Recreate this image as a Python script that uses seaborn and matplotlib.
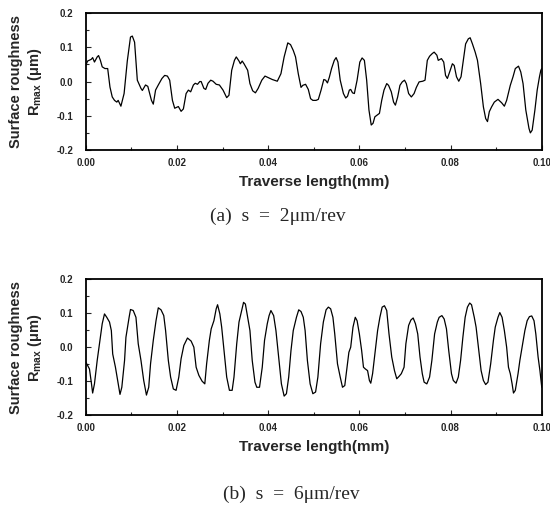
import numpy as np
import matplotlib
matplotlib.use("Agg")
import matplotlib.pyplot as plt
import seaborn as sns
from matplotlib.ticker import MultipleLocator, FormatStrFormatter

# (a) s = 2 um/rev : traverse length (mm) and roughness (um)
len_a = [0.0000, 0.0004, 0.0012, 0.0015, 0.0019, 0.0025, 0.0028, 0.0032, 0.0036, 0.0042,
         0.0048, 0.0053, 0.0058, 0.0063, 0.0068, 0.0071, 0.0077, 0.0084, 0.0091, 0.0098,
         0.0102, 0.0107, 0.0113, 0.0121, 0.0124, 0.0131, 0.0136, 0.0144, 0.0148, 0.0153,
         0.0159, 0.0167, 0.0173, 0.0179, 0.0184, 0.0190, 0.0195, 0.0203, 0.0209, 0.0214,
         0.0220, 0.0225, 0.0230, 0.0236, 0.0240, 0.0245, 0.0250, 0.0253, 0.0259, 0.0263,
         0.0268, 0.0274, 0.0279, 0.0286, 0.0293, 0.0301, 0.0309, 0.0314, 0.0320, 0.0326,
         0.0330, 0.0336, 0.0339, 0.0343, 0.0347, 0.0355, 0.0360, 0.0366, 0.0372, 0.0378,
         0.0386, 0.0393, 0.0401, 0.0409, 0.0420, 0.0428, 0.0435, 0.0443, 0.0449, 0.0455,
         0.0460, 0.0466, 0.0472, 0.0476, 0.0482, 0.0488, 0.0493, 0.0498, 0.0505, 0.0510,
         0.0516, 0.0522, 0.0526, 0.0530, 0.0534, 0.0539, 0.0545, 0.0549, 0.0553, 0.0558,
         0.0565, 0.0570, 0.0574, 0.0578, 0.0581, 0.0585, 0.0589, 0.0595, 0.0601, 0.0606,
         0.0611, 0.0616, 0.0621, 0.0626, 0.0630, 0.0634, 0.0639, 0.0644, 0.0649, 0.0654,
         0.0660, 0.0664, 0.0670, 0.0675, 0.0679, 0.0684, 0.0689, 0.0694, 0.0699, 0.0703,
         0.0708, 0.0714, 0.0720, 0.0725, 0.0731, 0.0739, 0.0744, 0.0749, 0.0754, 0.0760,
         0.0764, 0.0770, 0.0773, 0.0780, 0.0785, 0.0789, 0.0793, 0.0798, 0.0804, 0.0808,
         0.0813, 0.0818, 0.0823, 0.0827, 0.0833, 0.0839, 0.0843, 0.0848, 0.0854, 0.0859,
         0.0866, 0.0872, 0.0877, 0.0881, 0.0885, 0.0890, 0.0896, 0.0904, 0.0912, 0.0918,
         0.0923, 0.0931, 0.0937, 0.0942, 0.0949, 0.0954, 0.0959, 0.0965, 0.0972, 0.0975,
         0.0979, 0.0985, 0.0990, 0.0995, 0.0998, 0.1000]
rough_a = [0.048, 0.060, 0.065, 0.070, 0.057, 0.072, 0.076, 0.062, 0.043, 0.038,
           0.038, -0.016, -0.045, -0.055, -0.060, -0.055, -0.072, -0.035, 0.060, 0.130,
           0.133, 0.115, 0.004, -0.020, -0.026, -0.010, -0.014, -0.055, -0.066, -0.025,
           -0.010, 0.009, 0.018, 0.016, 0.004, -0.055, -0.078, -0.073, -0.087, -0.080,
           -0.035, -0.025, -0.030, -0.010, -0.005, -0.008, 0.000, 0.000, -0.020, -0.023,
           -0.005, 0.004, 0.001, -0.008, -0.010, -0.025, -0.047, -0.040, 0.033, 0.062,
           0.072, 0.060, 0.052, 0.060, 0.052, 0.033, -0.006, -0.027, -0.033, -0.020,
           0.004, 0.016, 0.011, 0.006, 0.001, 0.023, 0.072, 0.113, 0.108, 0.091,
           0.072, 0.023, -0.017, -0.011, -0.008, -0.023, -0.050, -0.055, -0.055, -0.052,
           -0.025, 0.006, 0.004, -0.004, 0.012, 0.038, 0.062, 0.070, 0.057, 0.004,
           -0.035, -0.048, -0.043, -0.025, -0.023, -0.033, -0.035, 0.004, 0.057, 0.069,
           0.062, 0.004, -0.083, -0.127, -0.122, -0.103, -0.098, -0.093, -0.055, -0.025,
           -0.006, -0.011, -0.030, -0.060, -0.069, -0.045, -0.011, -0.001, 0.004, -0.006,
           -0.035, -0.045, -0.035, -0.017, -0.001, 0.001, 0.004, 0.062, 0.074, 0.082,
           0.086, 0.077, 0.062, 0.067, 0.057, 0.018, 0.009, 0.028, 0.052, 0.047,
           0.014, 0.001, 0.014, 0.052, 0.110, 0.125, 0.128, 0.110, 0.086, 0.062,
           -0.006, -0.074, -0.108, -0.117, -0.088, -0.074, -0.060, -0.052, -0.062, -0.072,
           -0.055, -0.011, 0.014, 0.038, 0.045, 0.028, -0.006, -0.083, -0.137, -0.150,
           -0.142, -0.083, -0.025, 0.014, 0.033, 0.038]

# (b) s = 6 um/rev
len_b = [0.0000, 0.0004, 0.0008, 0.0012, 0.0015, 0.0019, 0.0025, 0.0031, 0.0036, 0.0041,
         0.0046, 0.0052, 0.0056, 0.0059, 0.0065, 0.0071, 0.0075, 0.0079, 0.0085, 0.0088,
         0.0095, 0.0098, 0.0104, 0.0110, 0.0115, 0.0121, 0.0127, 0.0133, 0.0138, 0.0142,
         0.0148, 0.0154, 0.0159, 0.0165, 0.0171, 0.0175, 0.0181, 0.0186, 0.0192, 0.0198,
         0.0204, 0.0209, 0.0215, 0.0223, 0.0231, 0.0237, 0.0242, 0.0248, 0.0255, 0.0261,
         0.0265, 0.0271, 0.0275, 0.0281, 0.0286, 0.0289, 0.0294, 0.0298, 0.0304, 0.0309,
         0.0315, 0.0321, 0.0325, 0.0331, 0.0336, 0.0341, 0.0346, 0.0350, 0.0355, 0.0360,
         0.0365, 0.0371, 0.0375, 0.0381, 0.0387, 0.0392, 0.0398, 0.0402, 0.0406, 0.0412,
         0.0417, 0.0423, 0.0429, 0.0435, 0.0440, 0.0445, 0.0450, 0.0455, 0.0462, 0.0467,
         0.0472, 0.0477, 0.0481, 0.0486, 0.0492, 0.0498, 0.0504, 0.0509, 0.0515, 0.0521,
         0.0527, 0.0532, 0.0537, 0.0542, 0.0546, 0.0552, 0.0558, 0.0563, 0.0568, 0.0573,
         0.0577, 0.0581, 0.0586, 0.0591, 0.0595, 0.0600, 0.0605, 0.0609, 0.0613, 0.0618,
         0.0622, 0.0625, 0.0629, 0.0635, 0.0640, 0.0645, 0.0650, 0.0655, 0.0660, 0.0665,
         0.0671, 0.0677, 0.0682, 0.0687, 0.0692, 0.0698, 0.0702, 0.0708, 0.0713, 0.0718,
         0.0723, 0.0728, 0.0733, 0.0738, 0.0742, 0.0748, 0.0754, 0.0759, 0.0765, 0.0771,
         0.0775, 0.0781, 0.0786, 0.0791, 0.0796, 0.0802, 0.0806, 0.0812, 0.0817, 0.0822,
         0.0827, 0.0832, 0.0837, 0.0842, 0.0846, 0.0852, 0.0856, 0.0862, 0.0867, 0.0872,
         0.0877, 0.0882, 0.0888, 0.0894, 0.0898, 0.0904, 0.0908, 0.0913, 0.0918, 0.0923,
         0.0927, 0.0931, 0.0935, 0.0938, 0.0942, 0.0948, 0.0952, 0.0958, 0.0963, 0.0968,
         0.0973, 0.0978, 0.0983, 0.0987, 0.0992, 0.0996, 0.1000]
rough_b = [-0.044, -0.054, -0.064, -0.103, -0.135, -0.108, -0.039, 0.020, 0.069, 0.098,
           0.088, 0.074, 0.049, -0.020, -0.059, -0.108, -0.139, -0.118, -0.039, 0.029,
           0.088, 0.111, 0.108, 0.088, 0.010, -0.039, -0.098, -0.141, -0.118, -0.049,
           0.020, 0.078, 0.116, 0.110, 0.093, 0.049, -0.039, -0.088, -0.123, -0.127,
           -0.088, -0.034, 0.005, 0.027, 0.018, 0.000, -0.059, -0.083, -0.100, -0.108,
           -0.049, 0.020, 0.054, 0.078, 0.113, 0.125, 0.098, 0.059, -0.020, -0.088,
           -0.127, -0.127, -0.088, 0.010, 0.074, 0.103, 0.132, 0.127, 0.088, 0.049,
           -0.039, -0.103, -0.118, -0.118, -0.059, 0.020, 0.069, 0.093, 0.108, 0.093,
           0.049, -0.029, -0.108, -0.144, -0.137, -0.088, -0.010, 0.049, 0.088, 0.110,
           0.105, 0.088, 0.049, -0.039, -0.108, -0.137, -0.132, -0.088, 0.010, 0.074,
           0.110, 0.118, 0.113, 0.088, 0.039, -0.049, -0.088, -0.118, -0.113, -0.059,
           -0.015, 0.000, 0.059, 0.088, 0.078, 0.039, -0.010, -0.059, -0.064, -0.069,
           -0.098, -0.106, -0.078, -0.010, 0.049, 0.088, 0.118, 0.122, 0.108, 0.039,
           -0.029, -0.069, -0.093, -0.086, -0.078, -0.059, 0.010, 0.064, 0.080, 0.086,
           0.069, 0.039, -0.029, -0.078, -0.103, -0.108, -0.088, -0.039, 0.039, 0.074,
           0.088, 0.093, 0.083, 0.054, -0.010, -0.078, -0.098, -0.106, -0.088, -0.039,
           0.029, 0.088, 0.118, 0.130, 0.125, 0.088, 0.059, -0.010, -0.069, -0.098,
           -0.110, -0.103, -0.049, 0.020, 0.059, 0.088, 0.102, 0.088, 0.049, 0.000,
           -0.059, -0.078, -0.108, -0.135, -0.127, -0.078, -0.039, 0.010, 0.049, 0.078,
           0.090, 0.092, 0.078, 0.039, -0.029, -0.069, -0.118]

captions = ["(a)  s  =  2\u03bcm/rev", "(b)  s  =  6\u03bcm/rev"]

sns.set_style("ticks")
plt.rcParams['font.family'] = ['Liberation Sans', 'DejaVu Sans']
plt.rcParams['mathtext.fontset'] = 'custom'
plt.rcParams['mathtext.rm'] = 'Liberation Sans'
plt.rcParams['mathtext.bf'] = 'Liberation Sans:bold'

fig = plt.figure(figsize=(5.5, 5.05), dpi=100)
ax_a = fig.add_axes([0.156, 0.703, 0.829, 0.271])
ax_b = fig.add_axes([0.156, 0.178, 0.829, 0.269])

for ax, x, y in [(ax_a, len_a, rough_a), (ax_b, len_b, rough_b)]:
    sns.lineplot(x=x, y=y, ax=ax, color='black', linewidth=0.9, sort=False)
    ax.set_xlim(0, 0.1)
    ax.set_ylim(-0.2, 0.2)
    ax.xaxis.set_major_locator(MultipleLocator(0.02))
    ax.xaxis.set_minor_locator(MultipleLocator(0.01))
    ax.yaxis.set_major_locator(MultipleLocator(0.1))
    ax.yaxis.set_minor_locator(MultipleLocator(0.05))
    ax.xaxis.set_major_formatter(FormatStrFormatter('%.2f'))
    ax.yaxis.set_major_formatter(FormatStrFormatter('%.1f'))
    ax.tick_params(which='both', direction='in', width=0.8, labelsize=7)
    ax.tick_params(axis='x', pad=6)
    ax.tick_params(axis='y', pad=9)
    ax.tick_params(which='major', length=3.5)
    ax.tick_params(which='minor', length=2)
    for lab in ax.get_xticklabels() + ax.get_yticklabels():
        lab.set_fontweight('bold')
    for sp in ax.spines.values():
        sp.set_linewidth(1.3)
        sp.set_color('black')
    ax.set_xlabel('Traverse length(mm)', fontsize=11, fontweight='bold', labelpad=5)
    ax.set_ylabel('Surface roughness\nR$_{\\mathbf{max}}$ (\u03bcm)', fontsize=10.5,
                  fontweight='bold', linespacing=1.25)
    ax.yaxis.set_label_coords(-0.13, 0.5)
    ax.yaxis.label.set_va('center')

fig.text(0.382, 1 - 216 / 505, captions[0], fontsize=14, family='Liberation Serif',
         ha='left', va='center')
fig.text(0.405, 1 - 494 / 505, captions[1], fontsize=14, family='Liberation Serif',
         ha='left', va='center')

fig.savefig('out.png', dpi=100)
